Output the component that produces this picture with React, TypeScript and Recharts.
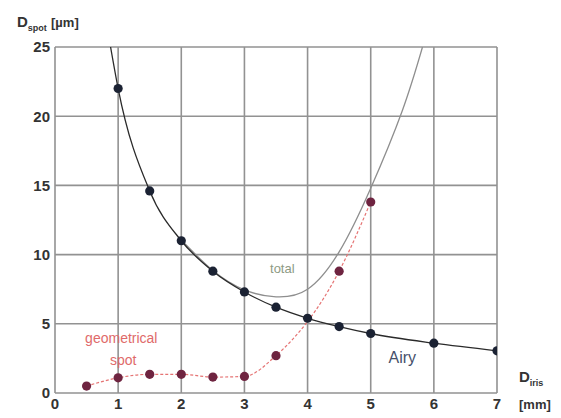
import React from 'react'
import { ComposedChart, Line, Scatter, XAxis, YAxis, CartesianGrid, ReferenceDot } from 'recharts'

// iris diameter [mm] vs spot diameter [µm]
const airyX = [1, 1.5, 2, 2.5, 3, 3.5, 4, 4.5, 5, 6, 7]
const airyY = [22, 14.6, 11, 8.8, 7.3, 6.2, 5.4, 4.8, 4.3, 3.6, 3.05]

const geoX = [0.5, 1, 1.5, 2, 2.5, 3, 3.5, 4.5, 5]
const geoY = [0.5, 1.1, 1.35, 1.35, 1.15, 1.2, 2.7, 8.8, 13.8]

// total runs on top of the Airy curve up to about 2 mm, drawn from there on
const totalX = [2, 2.5, 3, 3.5, 4, 4.5, 5, 5.5, 5.82]
const totalY = [11.05, 8.85, 7.45, 6.95, 7.5, 10.2, 14.8, 20.4, 25]

// the Airy curve keeps rising past the top of the frame
const airyTopX = 0.88
const airyTopY = 25

const xTicks = [0, 1, 2, 3, 4, 5, 6, 7]
const yTicks = [0, 5, 10, 15, 20, 25]

const zip = (xs: number[], ys: number[]) => xs.map((x, i) => ({ x, y: ys[i] }))

const airyPts = zip(airyX, airyY)
const airyCurve = [{ x: airyTopX, y: airyTopY }, ...airyPts]
const geoPts = zip(geoX, geoY)
const totalCurve = zip(totalX, totalY)

const FONT = '"Liberation Sans", Arial, sans-serif'
const tickStyle = { fontFamily: FONT, fontSize: 15, fontWeight: 700, fill: '#333' }

const dot = (fill: string) => (p: any) => <circle cx={p.cx} cy={p.cy} r={4.6} fill={fill} />

const App = () => {
  return (
    <div style={{ position: 'absolute', left: 0, top: 0, width: 561, height: 418, background: '#fff', fontFamily: FONT }}>
      <ComposedChart width={561} height={418} margin={{ top: 47, right: 64, bottom: 5, left: 0 }}>
        <CartesianGrid stroke="#929292" strokeWidth={1.6} />
        <XAxis
          type="number"
          dataKey="x"
          domain={[0, 7]}
          ticks={xTicks}
          axisLine={false}
          tickLine={false}
          tickSize={0}
          tickMargin={5}
          height={20}
          tick={tickStyle}
          allowDataOverflow
        />
        <YAxis
          type="number"
          dataKey="y"
          domain={[0, 25]}
          ticks={yTicks}
          axisLine={false}
          tickLine={false}
          tickSize={0}
          tickMargin={5}
          width={55}
          tick={tickStyle}
          allowDataOverflow
        />
        <Line data={totalCurve} dataKey="y" type="natural" stroke="#8e8e8e" strokeWidth={1.3} dot={false} isAnimationActive={false} />
        <Line data={geoPts} dataKey="y" type="monotone" stroke="#e57373" strokeWidth={1.2} strokeDasharray="3 2" dot={false} isAnimationActive={false} />
        <Line data={airyCurve} dataKey="y" type="monotone" stroke="#2a2a2a" strokeWidth={1.3} dot={false} isAnimationActive={false} />
        <Scatter data={geoPts} dataKey="y" shape={dot('#6e2440')} isAnimationActive={false} />
        <Scatter data={airyPts} dataKey="y" shape={dot('#1b2233')} isAnimationActive={false} />
        <ReferenceDot x={3.6} y={9} r={0} label={{ value: 'total', position: 'center', fill: '#8d9a84', fontSize: 13, fontFamily: FONT }} />
        <ReferenceDot x={5.5} y={2.6} r={0} label={{ value: 'Airy', position: 'center', fill: '#46506a', fontSize: 16, fontFamily: FONT }} />
        <ReferenceDot x={1.05} y={4} r={0} label={{ value: 'geometrical', position: 'center', fill: '#e06a6a', fontSize: 14, fontFamily: FONT }} />
        <ReferenceDot x={1.08} y={2.4} r={0} label={{ value: 'spot', position: 'center', fill: '#e06a6a', fontSize: 14, fontFamily: FONT }} />
      </ComposedChart>
      <div style={{ position: 'absolute', left: 17, top: 13, color: '#333', fontWeight: 700, fontSize: 15, whiteSpace: 'nowrap' }}>
        D<sub style={{ fontSize: 9 }}>spot</sub> <span style={{ fontSize: 13 }}>[µm]</span>
      </div>
      <div style={{ position: 'absolute', left: 519, top: 368, color: '#333', fontWeight: 700, fontSize: 15, whiteSpace: 'nowrap' }}>
        D<sub style={{ fontSize: 9 }}>iris</sub>
      </div>
      <div style={{ position: 'absolute', left: 519, top: 397, color: '#333', fontWeight: 700, fontSize: 13, whiteSpace: 'nowrap' }}>
        [mm]
      </div>
    </div>
  )
}

export default App
